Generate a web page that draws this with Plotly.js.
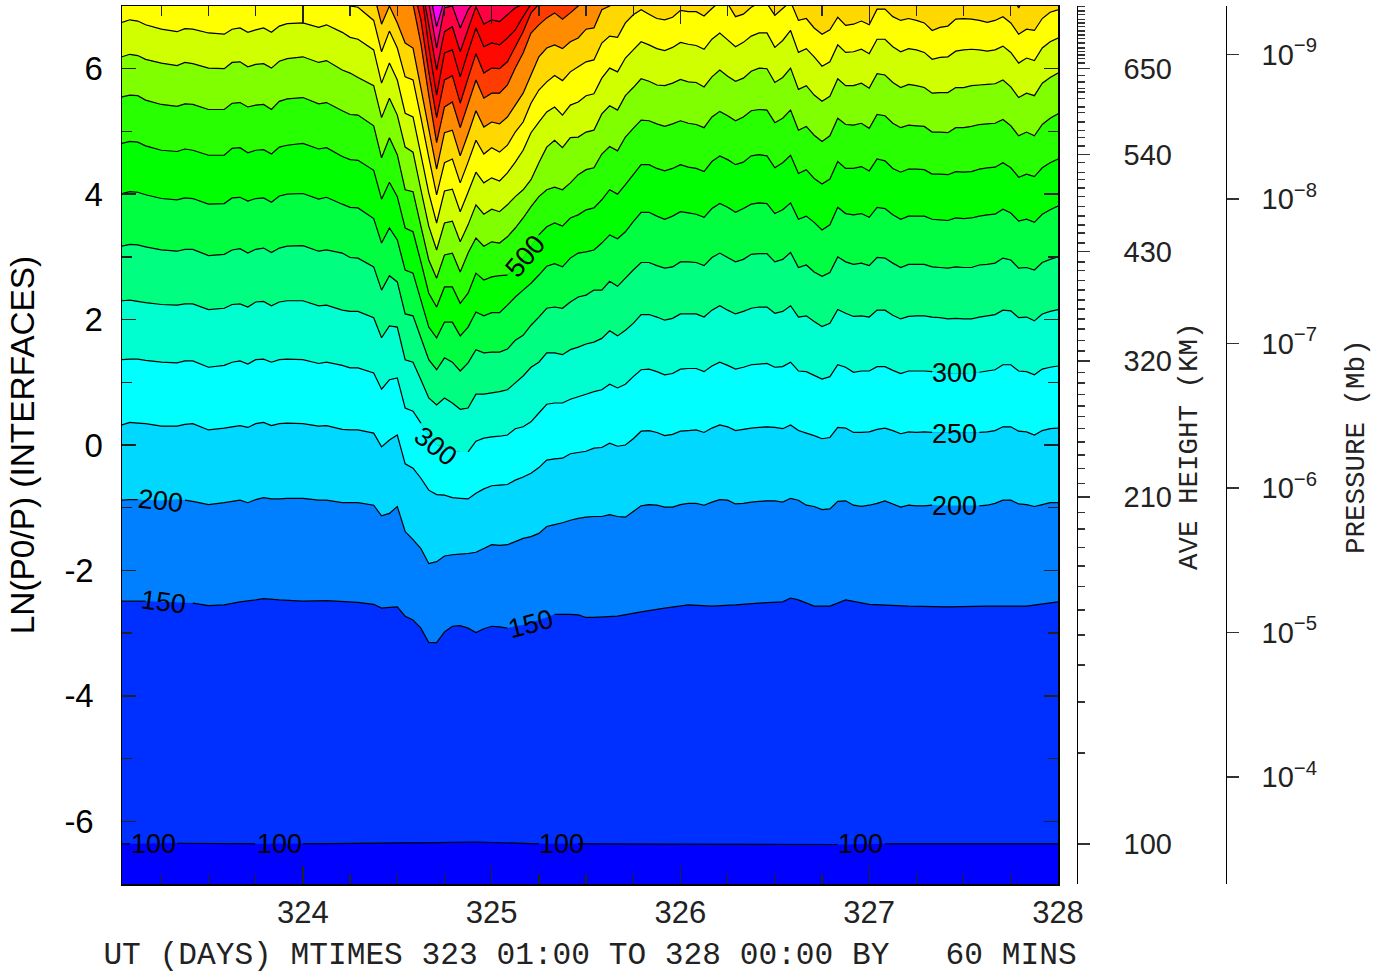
<!DOCTYPE html>
<html>
<head>
<meta charset="utf-8">
<script src="https://cdn.plot.ly/plotly-3.0.1.min.js"></script>
<style>html,body{margin:0;padding:0;background:#fff}</style>
</head>
<body>
<div id="chart" style="width:1387px;height:973px"></div>
<script>
// Model hours counted from 323 01:00 (one step = 60 mins)
const hoursFull = [0,1,2,3,5,7,8,9,11,13,14,15,16,17,18,19,20,21,23,25,26,28,29,30,
 32,33,34,35,36,37,38,39,40,41,42,43,44,45,46,47,48,49,50,51,52,53,54,55,56,57,58,59,60,
 61,62,63,64,65,66,67,68,69,70,71,72,73,74,75,76,77,78,79,80,81,82,83,84,85,86,87,88,
 89,90,91,92,93,94,95,96,97,98,99,100,101,102,103,104,105,106,107,108,109,110,111,112,113,114,115,116,117,118,119];

// Contour heights in LN(P0/P); values above 7 leave through the top of the frame
const hours100 = [0,1,7,17,23,40,45,53,58,91,97,119];
const level100 = [-6.36,-6.36,-6.35,-6.36,-6.36,-6.34,-6.33,-6.36,-6.36,-6.37,-6.36,-6.36];

const hours150 = [0,3,7,9,11,13,15,17,18,20,23,26,30,32,33,34,35,36,37,38,39,40,41,42,43,44,45,46,47,48,49,50,51,52,53,54,55,56,57,58,59,60,63,66,69,72,75,78,81,84,85,86,88,90,92,95,100,105,110,115,119];
const level150 = [-2.49,-2.49,-2.51,-2.52,-2.56,-2.55,-2.50,-2.47,-2.45,-2.47,-2.49,-2.48,-2.51,-2.54,
 -2.60,-2.59,-2.58,-2.73,-2.79,-2.92,-3.15,-3.15,-2.98,-2.89,-2.88,-2.92,-2.99,-2.93,-2.89,-2.90,-2.92,-2.89,-2.87,-2.84,-2.79,-2.75,-2.70,-2.70,-2.70,-2.71,-2.75,-2.75,
 -2.73,-2.66,-2.60,-2.55,-2.57,-2.55,-2.52,-2.50,-2.44,-2.47,-2.57,-2.57,-2.47,-2.54,-2.57,-2.58,-2.57,-2.57,-2.50];

const level200 = [-0.88,-0.87,-0.87,-0.88,-0.89,-0.87,-0.88,-0.90,-0.95,-0.92,-0.90,-0.88,-0.92,-0.87,-0.84,-0.86,-0.86,-0.85,-0.85,-0.88,-0.88,-0.92,-0.92,-0.92,
 -0.96,-1.13,-1.09,-0.98,-1.38,-1.51,-1.65,-1.89,-1.86,-1.77,-1.75,-1.74,-1.73,-1.71,-1.65,-1.59,-1.60,-1.59,-1.54,-1.49,-1.46,-1.41,-1.30,-1.27,-1.24,-1.20,-1.17,-1.15,-1.14,
 -1.14,-1.11,-1.14,-1.15,-1.06,-0.97,-0.95,-0.96,-0.99,-0.99,-0.95,-0.93,-0.93,-0.96,-0.91,-0.87,-0.88,-0.94,-0.93,-0.91,-0.90,-0.89,-0.89,-0.91,-0.85,-0.88,-0.96,-0.98,
 -1.03,-1.02,-0.90,-0.89,-0.96,-0.98,-0.96,-0.93,-0.89,-0.94,-0.99,-0.96,-0.97,-0.97,-0.96,-0.97,-0.97,-0.97,-0.97,-0.97,-0.97,-0.96,-0.93,-0.88,-0.88,-0.94,-0.95,-0.98,-0.95,-0.92,-0.92];

const level250 = [0.32,0.36,0.35,0.34,0.30,0.30,0.33,0.34,0.24,0.27,0.29,0.31,0.28,0.34,0.36,0.31,0.34,0.35,0.34,0.30,0.31,0.25,0.24,0.24,
 0.19,-0.03,0.08,0.16,-0.30,-0.37,-0.53,-0.72,-0.79,-0.80,-0.84,-0.85,-0.86,-0.77,-0.70,-0.65,-0.64,-0.63,-0.56,-0.51,-0.45,-0.36,-0.24,-0.22,-0.21,-0.14,-0.12,-0.10,-0.05,
 -0.04,0.03,-0.02,0.00,0.10,0.22,0.23,0.20,0.15,0.17,0.22,0.23,0.24,0.20,0.27,0.32,0.29,0.23,0.25,0.27,0.28,0.29,0.28,0.26,0.32,0.23,0.19,0.15,
 0.10,0.12,0.28,0.27,0.20,0.20,0.21,0.25,0.27,0.23,0.18,0.21,0.20,0.21,0.20,0.20,0.20,0.20,0.20,0.20,0.20,0.21,0.23,0.29,0.29,0.22,0.21,0.16,0.23,0.26,0.27];

const level300 = [1.36,1.37,1.37,1.35,1.32,1.31,1.34,1.34,1.24,1.27,1.32,1.34,1.29,1.36,1.37,1.32,1.36,1.37,1.36,1.30,1.32,1.27,1.23,1.23,
 1.15,0.89,1.04,1.07,0.59,0.54,0.35,0.16,0.00,-0.03,-0.08,-0.11,-0.11,0.06,0.11,0.13,0.14,0.16,0.26,0.29,0.37,0.51,0.65,0.67,0.67,0.73,0.77,0.81,0.85,
 0.88,0.97,0.91,0.97,1.09,1.20,1.21,1.17,1.12,1.14,1.21,1.22,1.22,1.17,1.26,1.32,1.27,1.21,1.24,1.28,1.29,1.30,1.24,1.25,1.32,1.18,1.17,1.11,
 1.05,1.09,1.28,1.24,1.16,1.18,1.18,1.25,1.25,1.19,1.14,1.18,1.18,1.18,1.17,1.15,1.14,1.14,1.14,1.15,1.16,1.18,1.20,1.28,1.28,1.18,1.17,1.12,1.21,1.24,1.26];

const level350 = [2.30,2.31,2.29,2.27,2.24,2.23,2.25,2.25,2.16,2.18,2.24,2.25,2.20,2.28,2.29,2.22,2.28,2.30,2.30,2.22,2.23,2.15,2.13,2.13,
 2.03,1.71,1.90,1.88,1.36,1.32,1.04,0.75,0.64,0.75,0.67,0.57,0.59,0.81,0.81,0.83,0.85,0.88,0.99,1.10,1.24,1.32,1.47,1.47,1.44,1.52,1.56,1.61,1.64,
 1.70,1.82,1.74,1.83,1.94,2.08,2.08,2.04,1.99,2.02,2.09,2.09,2.09,2.04,2.15,2.22,2.15,2.09,2.13,2.18,2.20,2.20,2.10,2.13,2.22,2.04,2.06,1.97,
 1.89,1.94,2.16,2.10,2.05,2.06,2.04,2.15,2.15,2.07,2.01,2.05,2.06,2.06,2.04,2.03,2.01,2.02,2.01,2.01,2.04,2.06,2.08,2.15,2.14,2.03,2.04,1.98,2.09,2.13,2.16];

const level400 = [3.17,3.20,3.19,3.16,3.11,3.09,3.12,3.12,3.02,3.04,3.11,3.13,3.06,3.12,3.14,3.07,3.14,3.17,3.18,3.09,3.11,3.06,2.99,2.98,
 2.84,2.47,2.70,2.60,2.09,2.06,1.71,1.36,1.20,1.39,1.32,1.18,1.31,1.52,1.47,1.48,1.48,1.53,1.67,1.75,1.91,2.04,2.18,2.20,2.18,2.28,2.36,2.39,2.47,
 2.47,2.61,2.53,2.66,2.79,2.91,2.91,2.86,2.82,2.84,2.92,2.92,2.91,2.86,2.99,3.06,2.99,2.92,2.96,3.04,3.05,3.05,2.92,2.96,3.07,2.83,2.87,2.76,
 2.69,2.75,3.00,2.92,2.88,2.90,2.86,2.99,2.98,2.90,2.83,2.88,2.88,2.88,2.84,2.83,2.82,2.84,2.83,2.83,2.87,2.88,2.90,2.98,2.95,2.82,2.83,2.79,2.91,2.96,3.00];

const level450 = [4.01,4.04,4.03,3.99,3.93,3.91,3.94,3.93,3.84,3.85,3.94,3.95,3.89,3.93,3.94,3.87,3.97,4.00,4.01,3.92,3.95,3.84,3.79,3.78,
 3.61,3.22,3.46,3.27,2.79,2.74,2.31,1.88,1.71,1.96,1.96,1.74,1.88,2.12,2.06,2.11,2.11,2.23,2.36,2.47,2.58,2.71,2.85,2.89,2.84,2.98,3.06,3.08,3.11,
 3.22,3.35,3.29,3.40,3.56,3.71,3.71,3.65,3.60,3.65,3.72,3.70,3.68,3.63,3.77,3.85,3.79,3.71,3.77,3.84,3.86,3.85,3.69,3.75,3.86,3.60,3.65,3.55,
 3.43,3.51,3.79,3.69,3.67,3.69,3.63,3.79,3.77,3.67,3.60,3.65,3.65,3.65,3.60,3.59,3.58,3.62,3.61,3.62,3.65,3.67,3.68,3.76,3.70,3.57,3.60,3.55,3.68,3.75,3.81];

const level500 = [4.81,4.84,4.83,4.77,4.70,4.68,4.72,4.70,4.62,4.62,4.73,4.74,4.66,4.70,4.71,4.64,4.75,4.78,4.81,4.72,4.74,4.60,4.55,4.54,
 4.38,3.92,4.19,3.96,3.46,3.40,2.92,2.42,2.20,2.52,2.52,2.26,2.42,2.74,2.63,2.68,2.70,2.71,2.84,2.98,3.17,3.35,3.48,3.54,3.49,3.62,3.67,3.75,3.78,
 3.91,4.07,4.00,4.15,4.31,4.47,4.47,4.41,4.37,4.41,4.47,4.43,4.41,4.36,4.52,4.61,4.55,4.47,4.51,4.61,4.63,4.61,4.42,4.50,4.62,4.33,4.39,4.25,
 4.16,4.24,4.52,4.41,4.41,4.44,4.37,4.56,4.53,4.41,4.35,4.40,4.40,4.39,4.32,4.32,4.31,4.36,4.35,4.36,4.40,4.42,4.43,4.50,4.42,4.27,4.32,4.28,4.42,4.50,4.56];

const level550 = [5.55,5.58,5.57,5.50,5.43,5.40,5.44,5.43,5.35,5.35,5.45,5.46,5.39,5.42,5.43,5.35,5.48,5.52,5.54,5.44,5.46,5.33,5.27,5.26,
 5.09,4.58,4.90,4.63,4.07,4.04,3.49,2.95,2.66,3.03,3.06,2.76,3.06,3.30,3.17,3.24,3.22,3.32,3.46,3.62,3.80,3.96,4.07,4.11,4.07,4.18,4.31,4.39,4.42,
 4.64,4.76,4.69,4.91,5.05,5.18,5.17,5.12,5.08,5.12,5.17,5.13,5.11,5.06,5.23,5.32,5.25,5.17,5.23,5.33,5.35,5.34,5.14,5.21,5.34,5.02,5.08,4.94,
 4.84,4.93,5.21,5.11,5.10,5.13,5.05,5.27,5.25,5.13,5.06,5.10,5.09,5.08,4.99,4.99,4.98,5.06,5.06,5.08,5.11,5.12,5.13,5.19,5.09,4.93,4.99,4.93,5.11,5.21,5.28];

const level600 = [6.19,6.23,6.21,6.15,6.09,6.05,6.10,6.08,6.01,6.00,6.10,6.11,6.03,6.07,6.08,6.01,6.12,6.16,6.19,6.10,6.13,5.98,5.93,5.86,
 5.73,5.22,5.53,5.26,4.75,4.67,4.07,3.49,3.11,3.54,3.57,3.24,3.51,3.83,3.68,3.76,3.72,3.83,3.96,4.07,4.23,4.50,4.75,4.86,4.74,4.90,4.91,4.99,5.02,
 5.28,5.41,5.34,5.57,5.70,5.84,5.80,5.74,5.73,5.77,5.83,5.79,5.78,5.71,5.87,5.98,5.88,5.80,5.85,5.96,6.01,6.00,5.78,5.86,6.01,5.67,5.73,5.58,
 5.48,5.56,5.84,5.73,5.73,5.77,5.69,5.92,5.90,5.78,5.70,5.75,5.73,5.70,5.61,5.62,5.62,5.70,5.70,5.73,5.74,5.75,5.76,5.82,5.71,5.54,5.61,5.57,5.77,5.86,5.93];

const level650 = [6.74,6.78,6.76,6.70,6.63,6.59,6.64,6.63,6.57,6.55,6.63,6.65,6.58,6.62,6.65,6.58,6.68,6.72,6.73,6.66,6.70,6.58,6.50,6.47,
 6.30,5.77,6.09,5.82,5.29,5.23,4.63,4.02,3.54,4.05,4.08,3.72,4.03,4.35,4.18,4.26,4.21,4.34,4.51,4.70,4.98,5.15,5.31,5.39,5.26,5.42,5.47,5.57,5.60,
 5.85,6.01,5.95,6.17,6.30,6.43,6.38,6.32,6.29,6.34,6.42,6.39,6.37,6.31,6.47,6.57,6.46,6.35,6.42,6.52,6.57,6.57,6.34,6.45,6.61,6.26,6.32,6.19,
 6.04,6.11,6.38,6.26,6.27,6.31,6.24,6.47,6.47,6.35,6.27,6.32,6.30,6.26,6.15,6.18,6.19,6.28,6.30,6.31,6.30,6.28,6.30,6.36,6.26,6.09,6.17,6.13,6.33,6.43,6.49];

const level700 = [7.3,7.3,7.3,7.3,7.3,7.3,7.3,7.3,7.3,7.3,7.3,7.3,7.3,7.3,7.3,7.3,7.3,7.3,7.3,7.2,7.15,7.08,7.0,6.98,
 6.77,6.27,6.60,6.33,5.87,5.82,5.22,4.59,3.99,4.50,4.56,4.18,4.51,4.86,4.64,4.74,4.67,4.78,4.99,5.15,5.45,5.66,5.79,5.89,5.81,5.95,6.03,6.11,6.14,
 6.41,6.52,6.50,6.73,6.86,6.94,6.87,6.80,6.78,6.82,6.93,6.91,6.91,6.84,6.96,7.07,7.04,6.83,6.87,6.98,7.05,7.04,6.85,6.96,7.07,6.77,6.80,6.65,
 6.55,6.62,6.82,6.69,6.71,6.76,6.70,6.95,6.95,6.83,6.77,6.80,6.77,6.73,6.61,6.66,6.68,6.79,6.80,6.79,6.77,6.74,6.77,6.83,6.73,6.55,6.63,6.61,6.80,6.90,6.94];

const hours750 = [0,32,33,34,35,36,37,38,39,40,41,42,43,44,45,46,47,48,49,50,51,52,53,54,55,56,57,58,59,60,61,62,63,113,114,115,119];
const level750 = [7.5,7.2,6.71,7.0,6.73,6.41,6.33,5.69,5.04,4.40,4.98,5.02,4.61,4.96,5.33,5.07,5.15,5.12,5.23,5.42,5.61,5.90,6.19,6.33,6.38,6.32,6.43,6.49,6.63,6.65,6.94,7.0,7.15,7.2,6.97,7.2,7.3];

const hours800 = [0,36,37,38,39,40,41,42,43,44,45,46,47,48,49,50,51,52,53,54,55,56,57,58,59,119];
const level800 = [7.5,7.3,7.03,6.40,5.58,4.82,5.39,5.47,5.06,5.44,5.82,5.53,5.61,5.61,5.74,6.01,6.25,6.57,6.70,6.81,6.89,6.79,6.89,7.0,7.2,7.5];

const hours850 = [0,37,38,39,40,41,42,43,44,45,46,47,48,49,50,51,52,53,54,119];
const level850 = [7.5,7.3,6.78,5.95,5.22,5.82,5.89,5.45,5.85,6.24,5.93,6.01,6.00,6.11,6.35,6.59,6.89,7.03,7.3,7.5];

const hours900 = [0,38,39,40,41,42,43,44,45,46,47,48,49,50,51,52,53,119];
const level900 = [7.5,7.3,6.35,5.58,6.25,6.30,5.87,6.27,6.65,6.35,6.41,6.38,6.49,6.62,6.83,7.03,7.3,7.5];

const hours950 = [0,38,39,40,41,42,43,44,45,46,47,48,49,50,51,52,119];
const level950 = [7.5,7.4,6.70,5.98,6.59,6.67,6.27,6.63,6.99,6.71,6.78,6.75,6.86,6.97,7.03,7.3,7.5];

const hours1000 = [0,38,39,40,41,42,43,44,45,46,119];
const level1000 = [7.5,7.5,7.05,6.33,6.97,7.0,6.65,6.94,7.1,7.4,7.5];

const hours1050 = [0,39,40,41,42,119];
const level1050 = [7.5,7.3,6.67,7.1,7.3,7.5];

const hoursTop = [0,119];
const levelTop = [7.6,7.6];

const bandColors = ['#0030ff','#0080ff','#00d8ff','#00ffff','#00ffd0','#00ff80','#00ff40','#00ff00','#28ff00','#80ff00','#d0ff00','#ffff00','#ffd800','#ff8c00','#ff3c00','#ff0a00','#ff0000','#ff0040','#ff0090','#ff00ff'];

// Hour spans where a contour line is broken for its label
const gaps = {100:[[1,7],[17,23],[53,58],[91,97]],150:[[3,9],[49,55]],200:[[2,8],[103,109]],250:[[103,109]],300:[[38,44],[103,109]],500:[[49,53]]};

const contourLabels = [
 {t:'100',x:323.211,y:-6.36,a:0},{t:'100',x:323.878,y:-6.36,a:0},{t:'100',x:325.372,y:-6.36,a:0},{t:'100',x:326.956,y:-6.36,a:0},
 {t:'150',x:323.264,y:-2.50,a:7},{t:'150',x:325.208,y:-2.85,a:-15},
 {t:'200',x:323.248,y:-0.89,a:6},{t:'200',x:327.454,y:-0.97,a:0},
 {t:'250',x:327.454,y:0.18,a:0},
 {t:'300',x:327.454,y:1.15,a:0},{t:'300',x:324.700,y:-0.02,a:38},
 {t:'500',x:325.180,y:3.01,a:-50}
];

// Axis tick values
const heightMajorVals = [6.00,4.63,3.08,1.34,-0.83,-6.36];
const heightMajorText = ['650','540','430','320','210','100'];
const heightMinorVals = [6.99,6.92,6.86,6.79,6.73,6.67,6.60,6.54,6.48,6.41,6.33,6.28,6.22,6.16,6.09,
 5.89,5.79,5.69,5.63,5.52,5.39,5.30,5.15,5.02,4.90,4.77,
 4.50,4.35,4.23,4.10,3.96,3.80,3.65,3.51,3.38,3.22,
 2.92,2.78,2.62,2.47,2.31,2.17,2.01,1.85,1.67,1.50,
 1.16,0.99,0.81,0.62,0.45,0.26,0.05,-0.16,-0.37,-0.61,
 -1.08,-1.34,-1.63,-1.93,-2.26,-2.63,-3.03,-3.51,-4.10,-4.91];
const pressureVals = [1e-9,1e-8,1e-7,1e-6,1e-5,1e-4];
const pressureText = ['10<sup>\u22129</sup>','10<sup>\u22128</sup>','10<sup>\u22127</sup>','10<sup>\u22126</sup>','10<sup>\u22125</sup>','10<sup>\u22124</sup>'];
const lnVals = [-6,-4,-2,0,2,4,6];
const lnText = ['-6\u00a0','-4\u00a0','-2\u00a0','0','2','4','6'];
const lnMinor = [-5,-3,-1,1,3,5];
const dayVals = [324,325,326,327,328];

const series = [
 [100,hours100,level100],[150,hours150,level150],[200,hoursFull,level200],[250,hoursFull,level250],[300,hoursFull,level300],
 [350,hoursFull,level350],[400,hoursFull,level400],[450,hoursFull,level450],[500,hoursFull,level500],[550,hoursFull,level550],
 [600,hoursFull,level600],[650,hoursFull,level650],[700,hoursFull,level700],[750,hours750,level750],[800,hours800,level800],
 [850,hours850,level850],[900,hours900,level900],[950,hours950,level950],[1000,hours1000,level1000],[1050,hours1050,level1050]
];
const toDay = h => 323 + (h + 1) / 24;
const traces = [];
series.forEach(([lev,h,v],i) => {
  traces.push({x:h.map(toDay),y:v,mode:'lines',line:{width:0,simplify:false},fill:i===0?'none':'tonexty',fillcolor:bandColors[i-1]||'rgba(0,0,0,0)',hoverinfo:'skip',showlegend:false,name:String(lev)});
});
traces.push({x:hoursTop.map(toDay),y:levelTop,mode:'lines',line:{width:0},fill:'tonexty',fillcolor:bandColors[19],hoverinfo:'skip',showlegend:false});
series.forEach(([lev,h,v]) => {
  const g = gaps[lev]||[], xs=[], ys=[];
  const inGap = t => g.some(s => t>s[0] && t<s[1]);
  h.forEach((t,i) => {
    if(inGap(t)) return;
    xs.push(toDay(t)); ys.push(v[i]);
    if(i+1<h.length && inGap((t+h[i+1])/2)){ xs.push(toDay(t)); ys.push(null); }
  });
  traces.push({x:xs,y:ys,mode:'lines',connectgaps:false,line:{color:'#000',width:1.2,simplify:false},hoverinfo:'skip',showlegend:false,name:lev+' K'});
});
// anchors so the two extra axes are drawn
traces.push({x:[324],y:[0],yaxis:'y2',mode:'markers',marker:{opacity:0},hoverinfo:'skip',showlegend:false});
traces.push({x:[324],y:[1e-6],yaxis:'y3',mode:'markers',marker:{opacity:0},hoverinfo:'skip',showlegend:false});

const numFont = {family:'Liberation Sans',size:29,color:'#222'};
const monoFont = {family:'Liberation Mono',size:31.2,color:'#222'};
const annots = contourLabels.map(l => ({x:l.x,y:l.y,xref:'x',yref:'y',text:l.t,showarrow:false,textangle:l.a,xanchor:'center',yanchor:'middle',font:{family:'Liberation Sans',size:27,color:'#000'}}));
annots.push({xref:'paper',yref:'paper',x:1189/1387,y:(973-446)/973,xanchor:'center',yanchor:'middle',text:'AVE HEIGHT (KM)',textangle:-90,showarrow:false,font:{family:'Liberation Mono',size:27.5,color:'#222'}});
annots.push({xref:'paper',yref:'paper',x:1357/1387,y:(973-447)/973,xanchor:'center',yanchor:'middle',text:'PRESSURE (Mb)',textangle:-90,showarrow:false,font:{family:'Liberation Mono',size:27.5,color:'#222'}});

const layout = {
  width:1387,height:973,margin:{l:0,r:0,t:0,b:0},paper_bgcolor:'#fff',plot_bgcolor:'#0000ff',showlegend:false,
  xaxis:{domain:[122/1387,1058/1387],range:[323+1/24,328],tickmode:'array',tickvals:dayVals,ticks:'inside',ticklen:18,tickwidth:1.3,tickcolor:'#222',
    minor:{tickmode:'linear',tick0:324,dtick:0.25,ticks:'inside',ticklen:10,tickwidth:1.3,tickcolor:'#222'},
    showgrid:false,zeroline:false,showline:true,linecolor:'#000',linewidth:1.5,mirror:'ticks',
    tickfont:{family:'Liberation Sans',size:31,color:'#222'},ticklabelstandoff:0,
    title:{text:'UT (DAYS) MTIMES 323 01:00 TO 328 00:00 BY   60 MINS',font:monoFont,standoff:18}},
  yaxis:{domain:[89/973,967/973],range:[-7,7],tickmode:'array',tickvals:lnVals,ticktext:lnText,ticks:'inside',ticklen:14,tickwidth:1.3,tickcolor:'#222',
    minor:{tickmode:'array',tickvals:lnMinor,ticks:'inside',ticklen:10,tickwidth:1.3,tickcolor:'#222'},
    showgrid:false,zeroline:false,showline:true,linecolor:'#000',linewidth:1.5,mirror:'ticks',
    tickfont:{family:'Liberation Sans',size:33,color:'#000'},ticklabelstandoff:11,
    title:{text:'LN(P0/P) (INTERFACES)',font:{family:'Liberation Sans',size:33.4,color:'#000'},standoff:19}},
  yaxis2:{domain:[89/973,967/973],overlaying:'y',anchor:'free',position:1076.5/1387,side:'right',range:[-7,7],tickmode:'array',tickvals:heightMajorVals,ticktext:heightMajorText,
    ticks:'outside',ticklen:12,tickwidth:1.3,tickcolor:'#333',minor:{tickmode:'array',tickvals:heightMinorVals,ticks:'outside',ticklen:7,tickwidth:1.3,tickcolor:'#333'},
    showgrid:false,zeroline:false,showline:true,linecolor:'#000',linewidth:1.3,tickfont:numFont,ticklabelstandoff:28},
  yaxis3:{domain:[89/973,967/973],overlaying:'y',anchor:'free',position:1225.5/1387,side:'right',type:'log',range:[-3.2595,-9.3356],tickmode:'array',tickvals:pressureVals,ticktext:pressureText,
    ticks:'outside',ticklen:12,tickwidth:1.3,tickcolor:'#333',showgrid:false,zeroline:false,showline:true,linecolor:'#000',linewidth:1.3,tickfont:numFont,ticklabelstandoff:17},
  annotations:annots
};
Plotly.newPlot('chart',traces,layout,{displayModeBar:false,responsive:false,staticPlot:true});
</script>
</body>
</html>
